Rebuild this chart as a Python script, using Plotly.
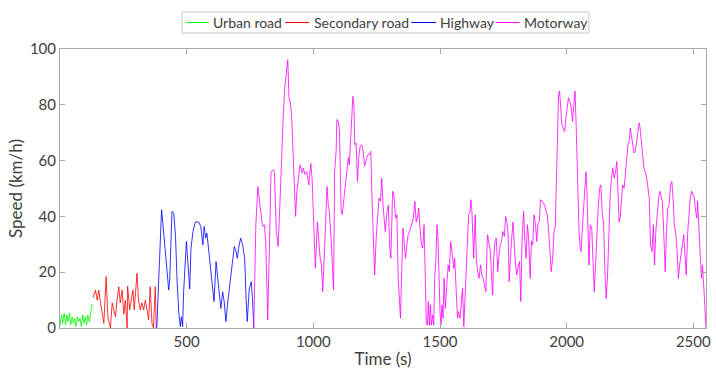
import plotly.graph_objects as go

# Urban road segment
t_urban = [0, 6, 11, 16, 22, 27, 32, 37, 43, 48, 53, 58, 63, 69, 74, 79, 84, 90, 95, 100, 105, 110, 116, 121, 126, 130]
v_urban = [0.5, 4.7, 1.7, 5.3, 1.1, 4.7, 2.3, 5.3, 1.1, 4.0, 1.7, 3.5, 0.5, 4.0, 2.3, 3.5, 0.5, 4.7, 1.7, 4.0, 1.1, 4.7, 2.3, 6.5, 8.3, 8.0]

# Secondary road segment
t_secondary = [131, 140, 147, 153, 160, 166, 173, 182, 189, 199, 206, 212, 219, 225, 232, 238, 245, 252,
               258, 265, 267, 275, 280, 288, 293, 299, 304, 310, 317, 323, 330, 337, 343, 350, 356, 363,
               369, 376, 380]
v_secondary = [11, 13.6, 10, 13.6, 9, 6, 1.7, 18.4, 4, 0, 9, 6.5, 4, 10, 14.8, 9, 13.6, 5,
               10, 0, 15, 6.5, 9, 13.6, 6.5, 13.6, 19.6, 10, 6.5, 9, 6.5, 10, 6.5, 3, 14.8, 1.7,
               0, 14.8, 0]

# Highway segment
t_highway = [382, 390, 396, 401, 406, 411, 419, 424, 429, 433, 438, 442, 449, 456, 462, 469, 475, 479, 484,
             488, 499, 504, 512, 517, 525, 534, 547, 556, 564, 569, 575, 580, 590, 599, 608, 616, 621,
             627, 635, 642, 648, 655, 661, 671, 682, 688, 695, 700, 705, 713, 721, 729, 734, 739, 747,
             755, 760, 765]
v_highway = [0, 20, 35, 42.4, 37.6, 32.8, 24.4, 19.6, 13.6, 17.2, 29.2, 41.8, 41.2, 32.8, 17.2, 5.3, 0.5, 4, 0.5,
             13, 31, 23.8, 14, 28.6, 34.6, 38, 38, 36.4, 29.8, 36.4, 32.2, 34, 26, 17.8, 9.5, 23.8, 20,
             14, 7, 13, 9.5, 2.3, 8.3, 15.4, 23.8, 29.2, 27.4, 25, 28.6, 32.2, 29.8, 25, 11.8, 2.3, 14,
             16.6, 10.6, 0]

# Motorway segment
t_motorway = [765, 773, 781, 789, 797, 802, 807, 812, 820, 828, 833, 841, 846, 854, 861, 867, 874, 880, 887,
              893, 899, 904, 909, 914, 920, 926, 930, 935, 940, 948, 956, 961, 967, 974, 982, 990, 995,
              1002, 1008, 1016, 1022, 1027, 1032, 1037, 1044, 1050, 1054, 1059, 1063, 1070, 1076, 1080,
              1084, 1090, 1093, 1099, 1103, 1106, 1110, 1114, 1118, 1123, 1129, 1134, 1138, 1142, 1147,
              1152, 1156, 1160, 1164, 1169, 1174, 1180, 1185, 1191, 1197, 1202, 1207, 1214, 1220, 1227,
              1231, 1235, 1238, 1242, 1248, 1253, 1259, 1265, 1270, 1275, 1279, 1284, 1291, 1296, 1301,
              1306, 1313, 1318, 1325, 1330, 1335, 1340, 1344, 1348, 1354, 1359, 1364, 1369, 1374, 1380,
              1385, 1390, 1395, 1401, 1406, 1411, 1416, 1421, 1427, 1432, 1437, 1442, 1446, 1450, 1454,
              1458, 1462, 1466, 1471, 1475, 1479, 1484, 1488, 1492, 1496, 1500, 1504, 1508, 1512, 1516,
              1521, 1526, 1532, 1537, 1542, 1546, 1550, 1554, 1558, 1562, 1566, 1569, 1573, 1579, 1584,
              1589, 1594, 1599, 1605, 1609, 1613, 1618, 1622, 1626, 1630, 1633, 1639, 1644, 1649, 1654,
              1660, 1665, 1670, 1675, 1681, 1686, 1688, 1694, 1699, 1704, 1708, 1712, 1717, 1722, 1728,
              1733, 1738, 1743, 1748, 1754, 1759, 1764, 1769, 1773, 1777, 1782, 1788, 1793, 1798, 1803,
              1809, 1814, 1819, 1824, 1830, 1835, 1840, 1845, 1850, 1856, 1861, 1866, 1871, 1877, 1882,
              1887, 1892, 1897, 1903, 1908, 1913, 1918, 1924, 1929, 1934, 1939, 1945, 1950, 1955, 1960,
              1964, 1968, 1972, 1976, 1981, 1986, 1992, 1997, 2002, 2007, 2012, 2018, 2023, 2028, 2033,
              2037, 2041, 2045, 2049, 2053, 2057, 2062, 2067, 2072, 2076, 2080, 2084, 2088, 2093, 2099,
              2104, 2109, 2114, 2120, 2125, 2130, 2135, 2140, 2146, 2151, 2156, 2161, 2167, 2172, 2177,
              2182, 2188, 2193, 2198, 2203, 2207, 2211, 2216, 2221, 2227, 2232, 2237, 2242, 2248, 2251,
              2255, 2261, 2266, 2271, 2276, 2282, 2286, 2289, 2295, 2300, 2305, 2310, 2316, 2321, 2326,
              2331, 2337, 2342, 2347, 2352, 2357, 2363, 2368, 2373, 2378, 2383, 2389, 2394, 2399, 2404,
              2410, 2415, 2420, 2425, 2431, 2436, 2441, 2446, 2452, 2457, 2462, 2467, 2472, 2478, 2483,
              2488, 2493, 2499, 2504, 2509, 2514, 2517, 2522, 2527, 2532, 2536, 2540, 2544, 2548, 2551]
v_motorway = [0, 37, 50.7, 44, 38, 36.4, 37, 31, 2.9, 34.6, 56, 56.7, 56, 34.6, 29.2, 41.8, 61, 73, 86,
              92.6, 96.2, 82.5, 80.7, 76.5, 63.3, 51.3, 40, 49, 53.7, 58.5, 55.5, 57.3, 55, 56, 51.3, 59, 53.7,
              38, 21.4, 38, 29.8, 25, 22.6, 13, 27.4, 41.8, 50.7, 44, 41.8, 32.2, 20.2, 13.6,
              56, 63.3, 74.7, 74, 70.5, 56, 41.8, 40.6, 44, 49, 53.7, 56, 61, 58.5, 65.7,
              75.3, 83, 80, 65.7, 66.3, 52.5, 62, 65, 65.7, 63.3, 58, 59.7, 62, 62, 63.3,
              47.8, 33.4, 25, 19, 32.2, 39.4, 46.6, 45.4, 53.7, 44, 39.4, 34.6, 41.8, 44, 29.8,
              25, 49, 47.8, 39.4, 40.6, 17.8, 8.3, 3.5, 17.8, 35.8, 29.8, 25, 29.8, 33.4, 34.6,
              36.4, 38, 39.4, 45.4, 38, 39.4, 43, 35.8, 29.8, 28.6, 37, 17.8, 2.3, 1, 9.5,
              1, 8.3, 1, 4.7, 1, 17.8, 25, 37, 32.2, 17.8, 5.9, 1, 8.3, 3.5, 17.8,
              7, 15.4, 22.6, 20.2, 31, 28.6, 25, 21.4, 25, 17.8, 8.3, 3.5, 5.9, 3.5, 8.3,
              14.2, 0.5, 10.6, 25, 31, 40.6, 41.2, 46, 41.8, 26.2, 25, 40.6, 23.8, 20.2, 17.8,
              22.6, 19, 17.8, 15.4, 13, 29.8, 33.4, 29.8, 27.4, 17.8, 11.8, 25, 31, 32.2, 20.2,
              26.2, 29.8, 31, 34.6, 32.8, 40, 38, 33.4, 16.6, 23.8, 31, 38, 29.8, 22.6, 19,
              22.6, 23.8, 9.5, 32.2, 41.8, 31, 25, 37, 32.2, 17.8, 31, 29.8, 40.6, 37, 31,
              37.6, 38, 46, 45.4, 44.8, 44, 41.8, 40, 34.6, 25, 20.2, 25, 34.6, 36.4, 53.7,
              68, 83.7, 84.9, 80, 73, 71.7, 70.5, 75.3, 78.9, 82.5, 81.3, 78.9, 74, 80, 84.9,
              74, 59.7, 41.8, 34.6, 28.6, 27.4, 35.8, 43, 50.1, 56, 49, 35.8, 22.6, 37, 35.8,
              23.8, 13, 22.6, 37, 44, 50.1, 51.3, 41.8, 37, 20.2, 10.6, 17.8, 37, 47.8, 53.7,
              57.3, 53.7, 56, 59.7, 49, 38, 39.4, 45.4, 51.3, 50.1, 55, 58.5, 65.7, 67.5, 71.7,
              69.3, 65.7, 62.7, 63.3, 66.9, 71.7, 73.5, 72.3, 65.7, 62, 57.3, 56, 53.7, 50.1, 46.6,
              29.8, 27.4, 37, 22.6, 34.6, 41.8, 46.6, 49, 46.6, 45.4, 34.6, 20.2, 34.6, 43, 44,
              51.3, 52.5, 46.6, 37, 33.4, 27.4, 17.8, 22.6, 27.4, 29.8, 33.4, 26.2, 19, 34.6, 40.6,
              46.6, 49, 47.8, 46.6, 41.8, 39.4, 45.4, 34.6, 27.4, 17.8, 22.6, 17.8, 10.6, 2.3, 0]

x_ticks = [500, 1000, 1500, 2000, 2500]
y_ticks = [0, 20, 40, 60, 80, 100]

segments = [
    ("Urban road", t_urban, v_urban, "#00ff00"),
    ("Secondary road", t_secondary, v_secondary, "#ff0000"),
    ("Highway", t_highway, v_highway, "#0000ff"),
    ("Motorway", t_motorway, v_motorway, "#ff00ff"),
]

W, H = 716, 373
ML, MR, MT, MB = 60, 5, 49, 45
PW, PH = W - ML - MR, H - MT - MB

def px_x(x):
    # page pixel column -> paper x
    return (x - ML) / PW

def px_y(y):
    # page pixel row -> paper y
    return (H - MB - y) / PH

axis_color = "#a8a8a8"
text_color = "#404040"
font_family = "Lato, Open Sans, sans-serif"

fig = go.Figure()
for name, t, v, color in segments:
    fig.add_trace(go.Scatter(x=t, y=v, mode="lines", name=name, showlegend=False,
                             line=dict(color=color, width=0.8)))

# Compact boxed legend across the top: short line sample followed by its label
legend_box = (183, 593, 12, 33)
legend_items = [(187, 210, 212), (287, 311, 314), (414, 439, 441), (499, 523, 526)]
legend_mid = 22.5

shapes = [dict(type="rect", xref="paper", yref="paper",
               x0=px_x(legend_box[0]), x1=px_x(legend_box[1]),
               y0=px_y(legend_box[3]), y1=px_y(legend_box[2]),
               line=dict(color="#c8c8c8", width=1), fillcolor="white", layer="above")]
annotations = []
for (name, _, _, color), (lx0, lx1, tx) in zip(segments, legend_items):
    shapes.append(dict(type="line", xref="paper", yref="paper", layer="above",
                       x0=px_x(lx0), x1=px_x(lx1), y0=px_y(legend_mid), y1=px_y(legend_mid),
                       line=dict(color=color, width=1)))
    annotations.append(dict(text=name, xref="paper", yref="paper",
                            x=px_x(tx), y=px_y(legend_mid), xanchor="left", yanchor="middle",
                            showarrow=False, font=dict(size=14, color=text_color)))

fig.update_layout(
    width=W, height=H,
    margin=dict(l=ML, r=MR, t=MT, b=MB),
    paper_bgcolor="white", plot_bgcolor="white",
    font=dict(family=font_family, size=15, color=text_color),
    showlegend=False,
    shapes=shapes,
    annotations=annotations,
)
fig.update_xaxes(
    range=[0, 2550], tickvals=x_ticks, ticktext=[str(v) for v in x_ticks],
    showline=True, linecolor=axis_color, linewidth=1, mirror="allticks",
    ticks="inside", ticklen=5, tickcolor=axis_color,
    showgrid=False, zeroline=False,
    title=dict(text="Time (s)", font=dict(size=17, color=text_color), standoff=4),
    tickfont=dict(size=15, color=text_color),
)
fig.update_yaxes(
    range=[0, 100], tickvals=y_ticks,
    showline=True, linecolor=axis_color, linewidth=1, mirror="allticks",
    ticks="inside", ticklen=5, tickcolor=axis_color,
    showgrid=False, zeroline=False,
    title=dict(text="Speed (km/h)", font=dict(size=17, color=text_color), standoff=2),
    tickfont=dict(size=15, color=text_color),
)

fig.write_html("out.html", config={"displayModeBar": False})
